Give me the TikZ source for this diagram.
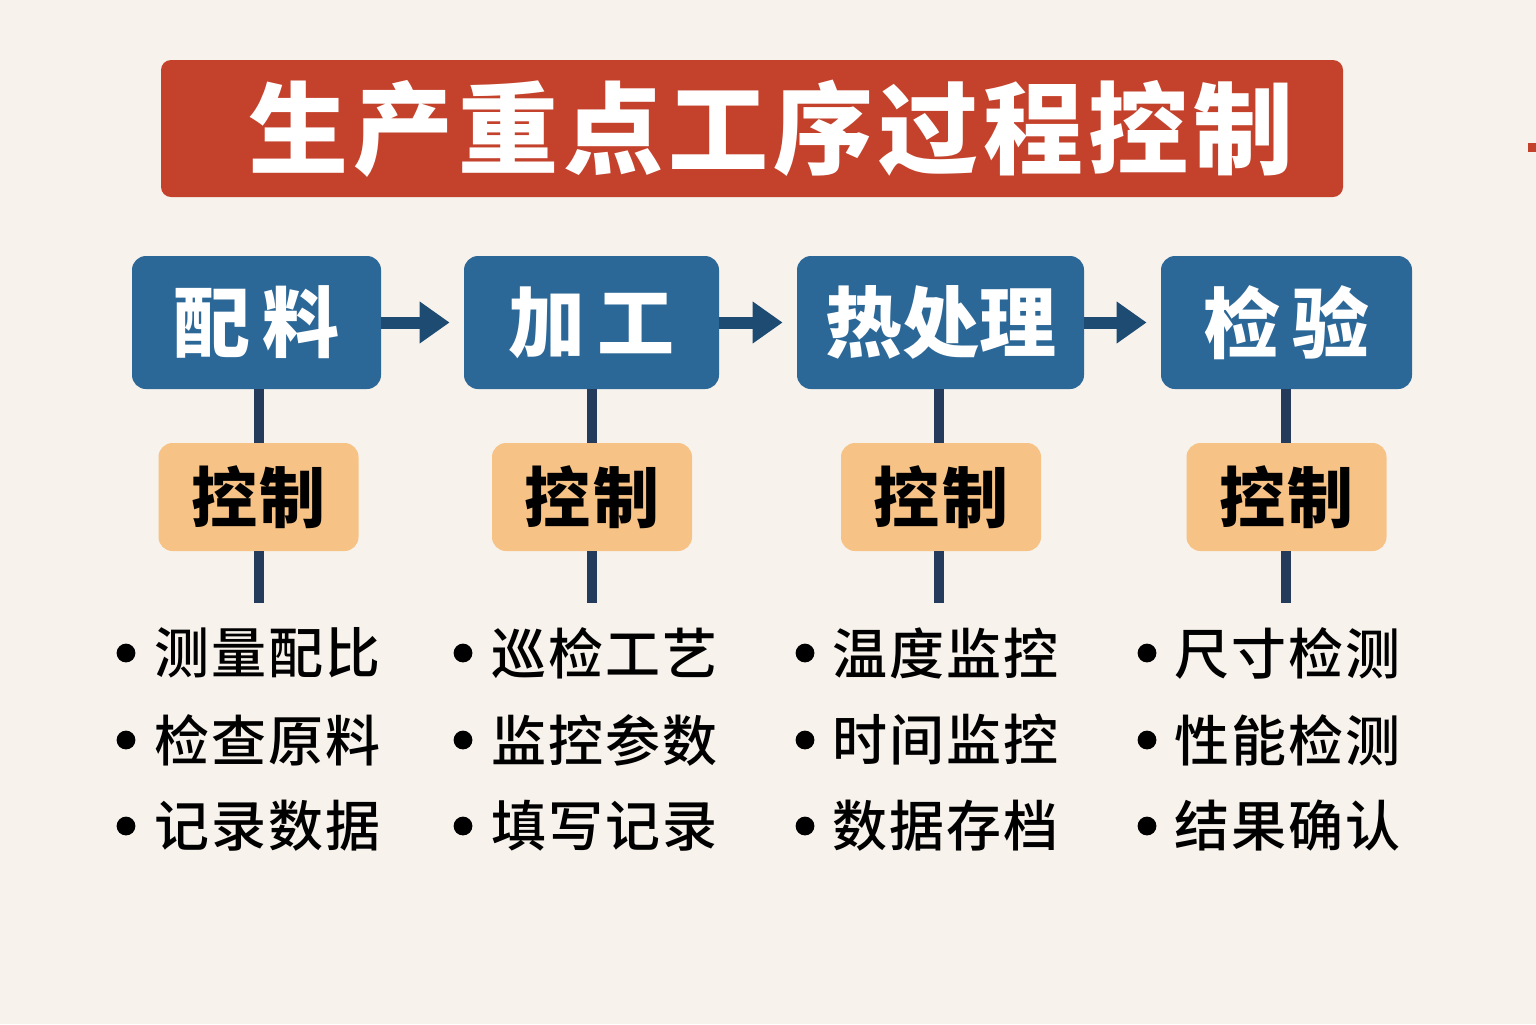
\documentclass[tikz,border=0pt]{standalone}
\usepackage{fontspec}
\newfontfamily\cjk{Noto Sans CJK SC}
\newfontfamily\cjkt{Noto Sans CJK SC}[LetterSpace=5]
\newfontfamily\cjki{Noto Sans CJK SC Medium}[LetterSpace=4]
\usetikzlibrary{arrows.meta}
\definecolor{bgc}{HTML}{F7F3EC}
\definecolor{titlered}{HTML}{C4422C}
\definecolor{boxblue}{HTML}{2B6797}
\definecolor{arrownavy}{HTML}{1D4B72}
\definecolor{linenavy}{HTML}{243B5C}
\definecolor{ctrlorange}{HTML}{F6C285}
\tikzset{
  titlebox/.style={fill=titlered, rounded corners=5pt, minimum width=591pt, minimum height=68.5pt, text=white, font=\cjkt\bfseries\fontsize{50}{56}\selectfont, inner sep=0pt},
  stagebox/.style={fill=boxblue, rounded corners=7pt, minimum height=66.5pt, text=white, font=\cjk\bfseries\fontsize{38.5}{44}\selectfont, inner sep=0pt},
  ctrlbox/.style={fill=ctrlorange, rounded corners=7pt, minimum width=100pt, minimum height=54pt, text=black, font=\cjk\bfseries\fontsize{33}{38}\selectfont, inner sep=0pt},
  flowarrow/.style={draw=arrownavy, line width=6pt, -{Triangle[length=15pt,width=20pt]}, shorten >=7pt},
  vline/.style={draw=linenavy, line width=5pt},
  item/.style={anchor=west, inner sep=0pt, text=black, font=\cjki\fontsize{27.5}{32}\selectfont},
  dot/.style={fill=black}
}
\begin{document}
\begin{tikzpicture}[x=0.5pt, y=-0.5pt]
\fill[bgc] (0,0) rectangle (1536,1024);
\useasboundingbox (0,0) rectangle (1536,1024);
\fill[titlered] (1528,143) rectangle (1536,152);

\node[titlebox] (title) at (752,128.5) {\hspace{19pt}生产重点工序过程控制};

\node[stagebox, minimum width=124.5pt] (b1) at (256.5,322.5) {配\hspace{6pt}料};
\node[stagebox, minimum width=127.5pt] (b2) at (591.5,322.5) {加\hspace{6pt}工};
\node[stagebox, minimum width=143.5pt] (b3) at (940.5,322.5) {热处理};
\node[stagebox, minimum width=125.5pt] (b4) at (1286.5,322.5) {检\hspace{6pt}验};

\draw[flowarrow] (b1.east) -- (b2.west);
\draw[flowarrow] (b2.east) -- (b3.west);
\draw[flowarrow] (b3.east) -- (b4.west);

\node[ctrlbox] (c1) at (258.5,497) {控\hspace{1.5pt}制};
\node[ctrlbox] (c2) at (592,497) {控\hspace{1.5pt}制};
\node[ctrlbox] (c3) at (941,497) {控\hspace{1.5pt}制};
\node[ctrlbox] (c4) at (1286.5,497) {控\hspace{1.5pt}制};

\coordinate (e1) at (258.5,603);
\coordinate (e2) at (592,603);
\coordinate (e3) at (938.5,603);
\coordinate (e4) at (1285.5,603);

\draw[vline] (b1.south -| c1) -- (c1.north);
\draw[vline] (b2.south -| c2) -- (c2.north);
\draw[vline] ([xshift=-1.25pt]b3.south -| c3) -- ([xshift=-1.25pt]c3.north);
\draw[vline] ([xshift=-0.5pt]b4.south -| c4) -- ([xshift=-0.5pt]c4.north);
\draw[vline] (c1.south) -- (e1);
\draw[vline] (c2.south) -- (e2);
\draw[vline] ([xshift=-1.25pt]c3.south) -- (e3);
\draw[vline] ([xshift=-0.5pt]c4.south) -- (e4);

% column 1
\fill[dot] (126,653) circle (4.7pt);
\fill[dot] (126,740) circle (4.7pt);
\fill[dot] (126,826) circle (4.7pt);
\node[item] (t11) at (154,653) {测量配比};
\node[item] (t12) at (154,740) {检查原料};
\node[item] (t13) at (154,826) {记录数据};
% column 2
\fill[dot] (463,653) circle (4.7pt);
\fill[dot] (463,740) circle (4.7pt);
\fill[dot] (463,826) circle (4.7pt);
\node[item] (t21) at (491,653) {巡检工艺};
\node[item] (t22) at (491,740) {监控参数};
\node[item] (t23) at (491,826) {填写记录};
% column 3
\fill[dot] (805,653) circle (4.7pt);
\fill[dot] (805,740) circle (4.7pt);
\fill[dot] (805,826) circle (4.7pt);
\node[item] (t31) at (832,653) {温度监控};
\node[item] (t32) at (832,740) {时间监控};
\node[item] (t33) at (832,826) {数据存档};
% column 4
\fill[dot] (1147,653) circle (4.7pt);
\fill[dot] (1147,740) circle (4.7pt);
\fill[dot] (1147,826) circle (4.7pt);
\node[item] (t41) at (1174,653) {尺寸检测};
\node[item] (t42) at (1174,740) {性能检测};
\node[item] (t43) at (1174,826) {结果确认};
\end{tikzpicture}
\end{document}
